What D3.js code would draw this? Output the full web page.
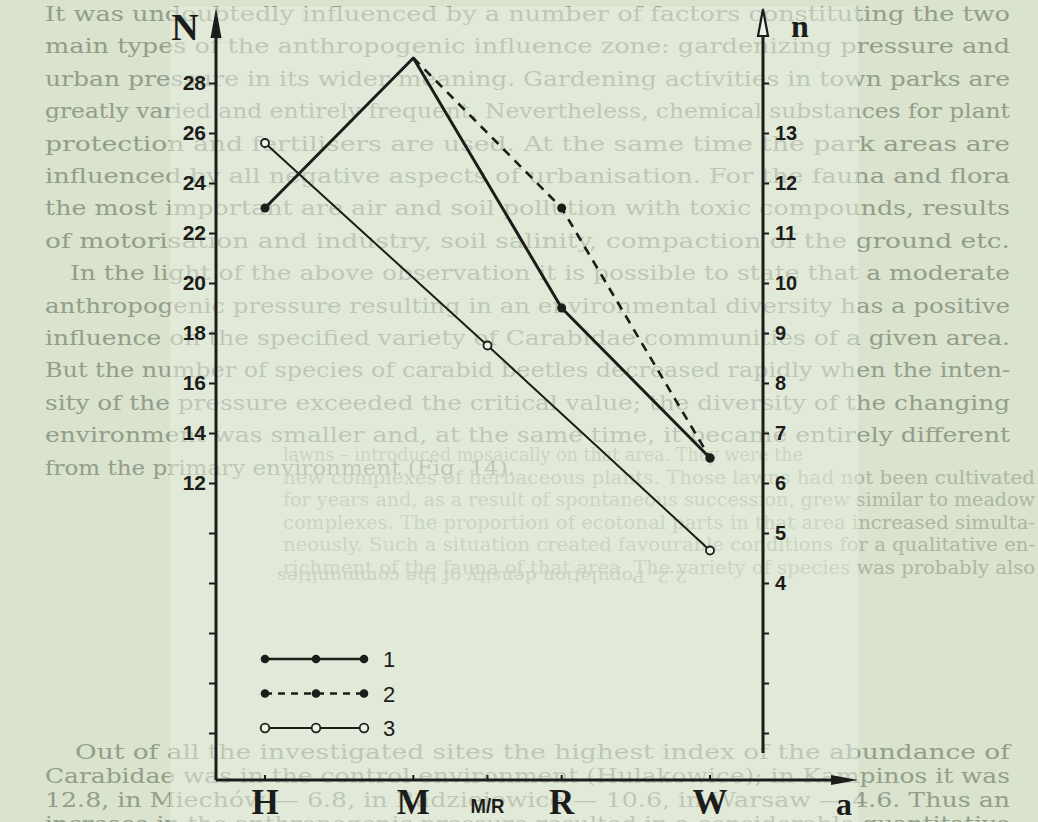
<!DOCTYPE html>
<html>
<head>
<meta charset="utf-8">
<script src="https://cdn.jsdelivr.net/npm/d3@7/dist/d3.min.js"></script>
<style>
  html, body { margin: 0; padding: 0; background: #d9e3cd; }
  svg { display: block; }
</style>
</head>
<body>
<div id="chart"></div>
<script>
// categories along the a axis and their pressure position
const categories = ["H", "M", "M/R", "R", "W"];
const pressure = [0, 2, 3, 4, 6];

// values (null = no point)
const series1N = [23.0, 29.0, null, 19.0, 13.0];   // solid, filled dots (left axis N)
const series2n = [null, 14.5, null, 11.5, 6.5];    // dashed, filled dots (right axis n)
const series3n = [12.8, null, 8.75, null, 4.65];   // thin, open circles (right axis n)

const leftTicks = [2, 4, 6, 8, 10, 12, 14, 16, 18, 20, 22, 24, 26, 28];
const leftLabels = [12, 14, 16, 18, 20, 22, 24, 26, 28];
const rightTicks = [1, 2, 3, 4, 5, 6, 7, 8, 9, 10, 11, 12, 13, 14];
const rightLabels = [4, 5, 6, 7, 8, 9, 10, 11, 12, 13];
const legendKeys = ["1", "2", "3"];

// faint text showing through the scanned page
const pageLines = [
  "It was undoubtedly influenced by a number of factors constituting the two",
  "main types of the anthropogenic influence zone: gardenizing pressure and",
  "urban pressure in its wider meaning. Gardening activities in town parks are",
  "greatly varied and entirely frequent. Nevertheless, chemical substances for plant",
  "protection and fertilisers are used. At the same time the park areas are",
  "influenced by all negative aspects of urbanisation. For the fauna and flora",
  "the most important are air and soil pollution with toxic compounds, results",
  "of motorisation and industry, soil salinity, compaction of the ground etc.",
  "   In the light of the above observation it is possible to state that a moderate",
  "anthropogenic pressure resulting in an environmental diversity has a positive",
  "influence on the specified variety of Carabidae communities of a given area.",
  "But the number of species of carabid beetles decreased rapidly when the inten-",
  "sity of the pressure exceeded the critical value; the diversity of the changing",
  "environment was smaller and, at the same time, it became entirely different",
  "from the primary environment (Fig. 14)."
];
const backLines = [
  "lawns \u2013 introduced mosaically on that area. They were the",
  "new complexes of herbaceous plants. Those lawns had not been cultivated",
  "for years and, as a result of spontaneous succession, grew similar to meadow",
  "complexes. The proportion of ecotonal parts in that area increased simulta-",
  "neously. Such a situation created favourable conditions for a qualitative en-",
  "richment of the fauna of that area. The variety of species was probably also"
];
const footLines = [
  "   Out of all the investigated sites the highest index of the abundance of",
  "Carabidae was in the control environment (Hulakowice); in Kampinos it was",
  "12.8, in Miech\u00f3w \u2014 6.8, in Radziejowice \u2014 10.6, in Warsaw \u2014 4.6. Thus an",
  "increase in the anthropogenic pressure resulted in a considerable quantitative"
];

const W = 1038, H = 822;
const svg = d3.select("#chart").append("svg")
  .attr("width", W).attr("height", H);

svg.append("rect").attr("width", W).attr("height", H).attr("fill", "#d9e3cd");

// page text layer
const txt = svg.append("g")
  .attr("font-family", "'DejaVu Serif', serif")
  .attr("font-size", 21)
  .attr("fill", "#939d8b");

txt.selectAll("text.front").data(pageLines).join("text")
  .attr("class", "front")
  .attr("x", (d, i) => i === 8 ? 70 : 45)
  .attr("y", (d, i) => 21 + i * 32.4)
  .attr("textLength", (d, i) => i === 14 ? 470 : (i === 8 ? 940 : 965))
  .attr("lengthAdjust", "spacingAndGlyphs")
  .text(d => d.trim());

txt.selectAll("text.back").data(backLines).join("text")
  .attr("class", "back")
  .attr("x", 283)
  .attr("y", (d, i) => 461 + i * 22.5)
  .attr("font-size", 19)
  .attr("fill", "#adb6a2")
  .attr("textLength", (d, i) => i === 0 ? 520 : 752)
  .attr("lengthAdjust", "spacingAndGlyphs")
  .text(d => d);

txt.append("text")
  .attr("transform", "translate(482,571) rotate(180)")
  .attr("text-anchor", "middle")
  .attr("font-size", 17)
  .attr("textLength", 410)
  .attr("lengthAdjust", "spacingAndGlyphs")
  .attr("fill", "#a9b29e")
  .text("2.2. Population density of the communities");

txt.selectAll("text.foot").data(footLines).join("text")
  .attr("class", "foot")
  .attr("x", (d, i) => i === 0 ? 75 : 45)
  .attr("y", (d, i) => 759 + i * 24)
  .attr("textLength", (d, i) => i === 0 ? 935 : 965)
  .attr("lengthAdjust", "spacingAndGlyphs")
  .text(d => d.trim());

// lighter pasted panel behind the figure
svg.append("rect")
  .attr("x", 170).attr("y", 7).attr("width", 688).attr("height", H - 7)
  .attr("fill", "#eaf1e3").attr("opacity", 0.5);

// scales
const x = d3.scaleLinear().domain([0, 6]).range([265, 710]);
const yN = d3.scaleLinear().domain([0, 30]).range([783, 33]);
const yn = d3.scaleLinear().domain([0, 15]).range([783, 33]);

const ink = "#1c1c1a";
const axL = 216, axR = 763, axB = 780;

// left axis
const gL = svg.append("g").attr("transform", `translate(${axL},0)`)
  .call(d3.axisLeft(yN).tickValues(leftTicks).tickSize(7).tickPadding(3)
    .tickFormat(d => leftLabels.includes(d) ? d : ""));
gL.select(".domain").remove();
gL.selectAll(".tick line").attr("stroke", ink).attr("stroke-width", 2);
gL.selectAll(".tick text").attr("fill", ink)
  .attr("font-family", "'Liberation Sans', Arial, sans-serif")
  .attr("font-size", 21).attr("font-weight", "bold");

svg.append("line").attr("x1", axL).attr("x2", axL).attr("y1", 30).attr("y2", axB)
  .attr("stroke", ink).attr("stroke-width", 3);
svg.append("path")
  .attr("d", `M${axL},8 L${axL - 5.5},38 L${axL + 5.5},38 Z`)
  .attr("fill", ink);
svg.append("text").attr("x", 185).attr("y", 40).attr("text-anchor", "middle")
  .attr("font-family", "'Liberation Serif', serif").attr("font-weight", "bold")
  .attr("font-size", 38).attr("fill", ink).text("N");

// right axis
const gR = svg.append("g").attr("transform", `translate(${axR},0)`)
  .call(d3.axisRight(yn).tickValues(rightTicks).tickSize(6).tickPadding(6)
    .tickFormat(d => rightLabels.includes(d) ? d : ""));
gR.select(".domain").remove();
gR.selectAll(".tick line").attr("stroke", ink).attr("stroke-width", 2);
gR.selectAll(".tick text").attr("fill", ink)
  .attr("font-family", "'Liberation Sans', Arial, sans-serif")
  .attr("font-size", 20).attr("font-weight", "bold");

svg.append("line").attr("x1", axR).attr("x2", axR).attr("y1", 36).attr("y2", 753)
  .attr("stroke", ink).attr("stroke-width", 3);
svg.append("path")
  .attr("d", `M${axR},9 L${axR - 5},36 L${axR + 5},36 Z`)
  .attr("fill", "#eef3e6").attr("stroke", ink).attr("stroke-width", 2.2)
  .attr("stroke-linejoin", "miter");
svg.append("text").attr("x", 800).attr("y", 37).attr("text-anchor", "middle")
  .attr("font-family", "'Liberation Serif', serif").attr("font-weight", "bold")
  .attr("font-size", 32).attr("fill", ink).text("n");

// bottom axis
svg.append("line").attr("x1", axL).attr("x2", 835).attr("y1", axB).attr("y2", axB)
  .attr("stroke", ink).attr("stroke-width", 3);
svg.append("path")
  .attr("d", `M858,${axB} L831,${axB - 5} L831,${axB + 5} Z`)
  .attr("fill", ink);
svg.selectAll("line.xt").data(pressure).join("line")
  .attr("class", "xt")
  .attr("x1", d => x(d)).attr("x2", d => x(d))
  .attr("y1", axB - 5).attr("y2", axB)
  .attr("stroke", ink).attr("stroke-width", 2);

svg.selectAll("text.cat").data(categories).join("text")
  .attr("class", "cat")
  .attr("x", (d, i) => x(pressure[i]))
  .attr("y", d => d === "M/R" ? 813 : 814)
  .attr("text-anchor", "middle")
  .attr("font-family", d => d === "M/R" ? "'Liberation Sans', Arial, sans-serif" : "'Liberation Serif', serif")
  .attr("font-weight", "bold")
  .attr("font-size", d => d === "M/R" ? 21 : 35)
  .attr("textLength", d => d === "M/R" ? 34 : null)
  .attr("lengthAdjust", "spacingAndGlyphs")
  .attr("fill", ink)
  .text(d => d);
svg.append("text").attr("x", 844).attr("y", 815).attr("text-anchor", "middle")
  .attr("font-family", "'Liberation Serif', serif").attr("font-weight", "bold")
  .attr("font-size", 32).attr("fill", ink).text("a");

// series
function pts(values, scale) {
  return values.map((v, i) => v == null ? null : [x(pressure[i]), scale(v)])
    .filter(p => p);
}
const line = d3.line();

const s1 = pts(series1N, yN);
const s2 = pts(series2n, yn);
const s3 = pts(series3n, yn);

svg.append("path").attr("d", line(s3)).attr("fill", "none")
  .attr("stroke", ink).attr("stroke-width", 2);
svg.append("path").attr("d", line(s2)).attr("fill", "none")
  .attr("stroke", ink).attr("stroke-width", 2.6).attr("stroke-dasharray", "9,7");
svg.append("path").attr("d", line(s1)).attr("fill", "none")
  .attr("stroke", ink).attr("stroke-width", 3).attr("stroke-linejoin", "round");

svg.selectAll("circle.s1").data(s1.filter((p, i) => i !== 1)).join("circle")
  .attr("class", "s1").attr("cx", p => p[0]).attr("cy", p => p[1]).attr("r", 4.5)
  .attr("fill", ink);
svg.selectAll("circle.s2").data(s2.slice(1)).join("circle")
  .attr("class", "s2").attr("cx", p => p[0]).attr("cy", p => p[1]).attr("r", 4.5)
  .attr("fill", ink);
svg.selectAll("circle.s3").data(s3).join("circle")
  .attr("class", "s3").attr("cx", p => p[0]).attr("cy", p => p[1]).attr("r", 4)
  .attr("fill", "#eef3e6").attr("stroke", ink).attr("stroke-width", 1.8);

// legend
const legY = d3.scalePoint().domain(legendKeys).range([659, 728]);
const legX = [265, 316, 364];
const leg = svg.selectAll("g.leg").data(legendKeys).join("g")
  .attr("class", "leg")
  .attr("transform", d => `translate(0,${legY(d)})`);
leg.append("line").attr("x1", legX[0]).attr("x2", legX[2])
  .attr("stroke", ink)
  .attr("stroke-width", d => d === "3" ? 2 : 2.6)
  .attr("stroke-dasharray", d => d === "2" ? "7,6" : null);
leg.each(function(d) {
  d3.select(this).selectAll("circle").data(legX).join("circle")
    .attr("cx", v => v).attr("r", 4.3)
    .attr("fill", d === "3" ? "#eef3e6" : ink)
    .attr("stroke", ink).attr("stroke-width", d === "3" ? 1.8 : 0);
});
leg.append("text").attr("x", 383).attr("y", 8)
  .attr("font-family", "'Liberation Sans', Arial, sans-serif")
  .attr("font-size", 22).attr("fill", ink)
  .text(d => d);
</script>
</body>
</html>
